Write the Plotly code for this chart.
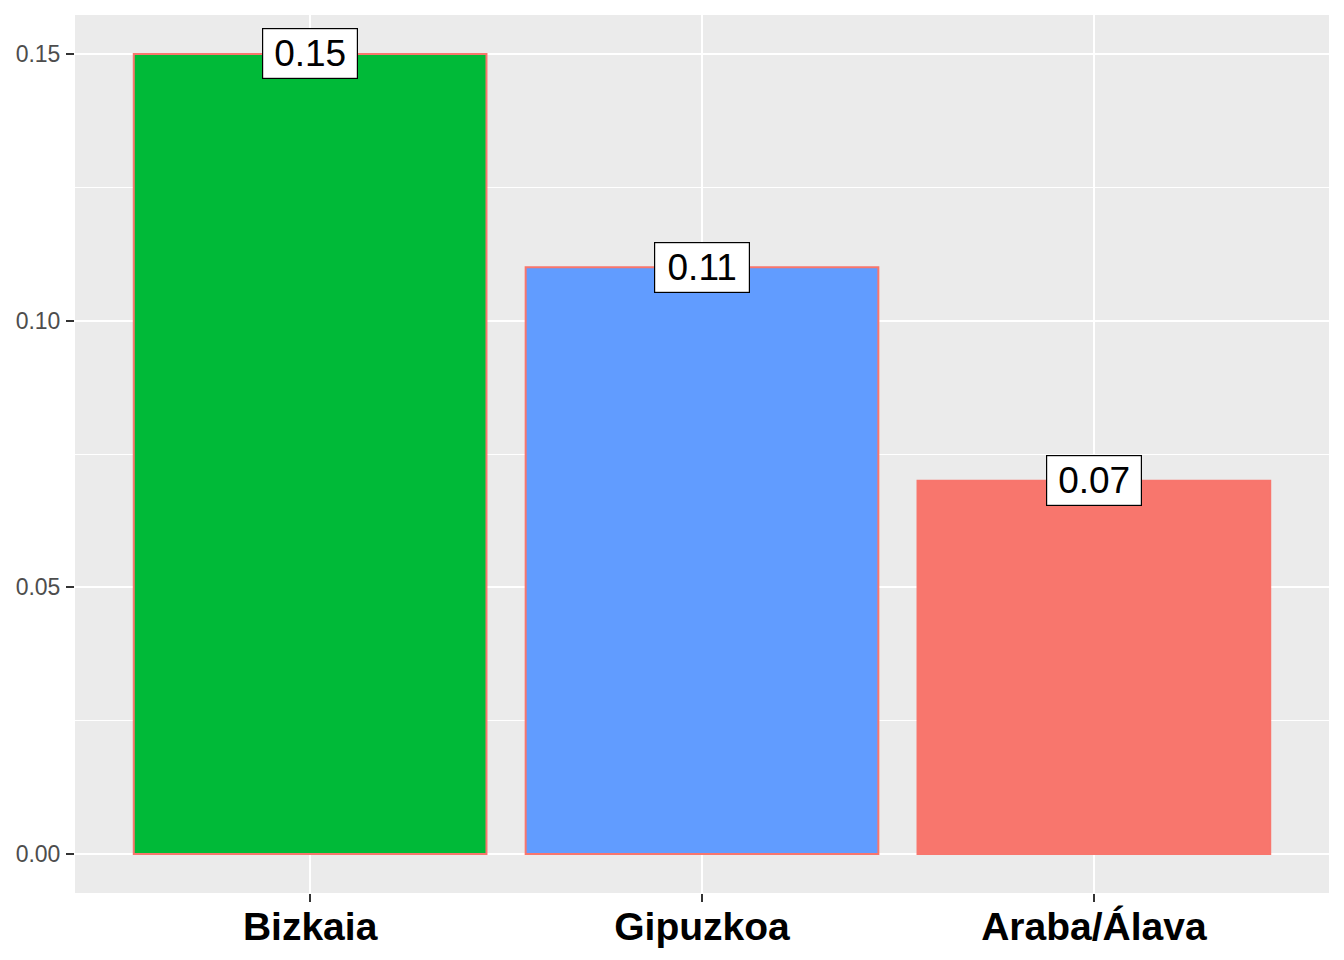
import plotly.graph_objects as go

categories = ["Bizkaia", "Gipuzkoa", "Araba/Álava"]
values = [0.15, 0.11, 0.07]
bar_colors = ["#00BA38", "#619CFF", "#F8766D"]
label_texts = ["0.15", "0.11", "0.07"]
y_ticks = [0.00, 0.05, 0.10, 0.15]
y_tick_labels = ["0.00", "0.05", "0.10", "0.15"]

fig = go.Figure()
fig.add_trace(go.Bar(
    x=categories, y=values, width=0.9,
    marker=dict(color=bar_colors, line=dict(color="#F8766D", width=2)),
    hoverinfo="skip", showlegend=False,
))

for c, v, t in zip(categories, values, label_texts):
    fig.add_annotation(
        x=c, y=v, xref="x", yref="y", text=t, showarrow=False,
        xanchor="center", yanchor="middle",
        width=88, height=43, align="center", valign="middle",
        font=dict(family="Liberation Sans", size=37, color="black"),
        bgcolor="white", bordercolor="black", borderwidth=1.2, borderpad=3,
    )

fig.update_layout(
    width=1336, height=952,
    margin=dict(l=67, r=15, t=7, b=67),
    paper_bgcolor="white", plot_bgcolor="#EBEBEB",
    font=dict(family="Liberation Sans"),
    bargap=0.1,
)
fig.update_xaxes(
    range=[-0.6, 2.6], showgrid=True, gridcolor="white", gridwidth=2,
    ticks="outside", ticklen=8, tickwidth=2, tickcolor="#333333",
    ticklabelstandoff=-9, automargin=False,
    tickfont=dict(family="Liberation Sans", size=39, color="black", weight="bold"),
    showline=False, zeroline=False, fixedrange=True,
)
fig.update_yaxes(
    range=[-0.0073, 0.1573], tickvals=y_ticks, ticktext=y_tick_labels,
    showgrid=True, gridcolor="white", gridwidth=2,
    minor=dict(dtick=0.025, tick0=0, showgrid=True, gridcolor="white", gridwidth=1),
    ticks="outside", ticklen=8, tickwidth=2, tickcolor="#333333",
    ticklabelstandoff=1, automargin=False,
    tickfont=dict(family="Liberation Sans", size=23, color="#4D4D4D"),
    showline=False, zeroline=False, fixedrange=True,
)

fig.write_html("out.html")
